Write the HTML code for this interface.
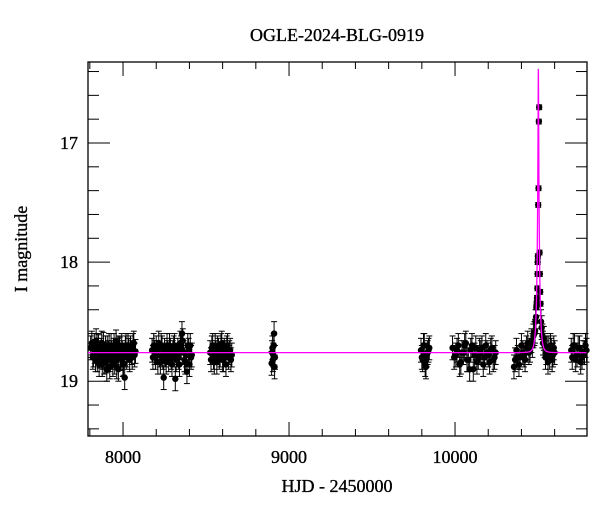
<!DOCTYPE html>
<html><head><meta charset="utf-8"><style>
body{margin:0;background:#fff;font-family:"Liberation Serif",serif}
text{stroke:#000;stroke-width:0.35}
</style></head><body>
<svg id="c" width="600" height="512" xmlns="http://www.w3.org/2000/svg" style="font-family:'Liberation Serif',serif">
<text x="337" y="41" text-anchor="middle" font-size="18">OGLE-2024-BLG-0919</text>
<text x="337" y="492" text-anchor="middle" font-size="18">HJD - 2450000</text>
<text transform="translate(27,249) rotate(-90)" text-anchor="middle" font-size="18">I magnitude</text>
<g id="plot"></g>
</svg>
<script>
const xTicks=[8000,9000,10000];
const yTicks=[17,18,19];
const t1=[7805,7812,7818,7822,7827,7830,7834,7838,7842,7845,7849,7852,7856,7860,7864,7868,7872,7875,7879,7882,7886,7890,7894,7898,7902,7905,7909,7912,7916,7920,7924,7928,7932,7935,7939,7942,7946,7950,7954,7958,7962,7965,7969,7972,7976,7980,7984,7988,7992,7995,7999,8003,8007,8010,8014,8018,8022,8025,8030,8035,8040,8045,8050,8055,8060,8065,8070,8075];
const m1=[18.72,18.68,18.8,18.78,18.7,18.75,18.82,18.66,18.74,18.82,18.7,18.71,18.86,18.79,18.76,18.74,18.68,18.86,18.8,18.69,18.84,18.77,18.72,18.83,18.9,18.72,18.78,18.76,18.7,18.88,18.82,18.7,18.76,18.8,18.86,18.74,18.7,18.84,18.78,18.67,18.88,18.79,18.74,18.9,18.72,18.73,18.8,18.81,18.7,18.76,18.86,18.85,18.78,18.97,18.72,18.7,18.8,18.78,18.7,18.74,18.82,18.72,18.76,18.8,18.7,18.68,18.78,18.75];
const t2=[8175,8180,8185,8190,8195,8200,8205,8210,8215,8220,8225,8230,8235,8240,8245,8250,8255,8260,8265,8270,8275,8280,8285,8290,8295,8300,8305,8310,8315,8320,8325,8330,8335,8340,8345,8350,8355,8360,8365,8370,8375,8380,8385,8390,8395,8400,8405,8410,8414];
const m2=[18.74,18.8,18.7,18.76,18.8,18.72,18.76,18.84,18.68,18.78,18.84,18.7,18.72,18.8,18.97,18.74,18.78,18.84,18.7,18.76,18.82,18.7,18.74,18.8,18.86,18.76,18.72,18.7,18.98,18.82,18.78,18.74,18.8,18.86,18.68,18.72,18.6,18.66,18.76,18.82,18.84,18.78,18.92,18.7,18.74,18.86,18.7,18.8,18.78];
const t3=[8525,8530,8535,8540,8545,8550,8555,8560,8565,8570,8575,8580,8585,8590,8595,8600,8605,8610,8615,8620,8625,8630,8635,8640,8645,8650,8655];
const m3=[18.76,18.82,18.72,18.7,18.8,18.84,18.7,18.76,18.84,18.72,18.74,18.8,18.78,18.7,18.68,18.82,18.82,18.74,18.76,18.86,18.72,18.7,18.8,18.76,18.74,18.82,18.78];
const t4=[8895,8898,8900,8903,8905,8908,8910,8913,8915];
const m4=[18.85,18.76,18.72,18.82,18.78,18.7,18.6,18.88,18.8];
const t5=[9795,9800,9805,9810,9815,9820,9825,9830,9835,9840,9845];
const m5=[18.74,18.8,18.82,18.7,18.7,18.86,18.88,18.78,18.76,18.74,18.72];
const t6=[9985,9995,10005,10012,10020,10028,10035,10042,10050,10058,10065,10072,10080,10088,10095,10102,10110,10118,10125,10132,10140,10148,10155,10162,10170,10178,10185,10192,10200,10208,10215,10222,10230,10238,10245];
const m6=[18.72,18.8,18.78,18.74,18.7,18.86,18.84,18.76,18.76,18.7,18.68,18.82,18.82,18.9,18.74,18.7,18.9,18.78,18.72,18.84,18.8,18.74,18.76,18.72,18.86,18.8,18.7,18.76,18.78,18.84,18.74,18.72,18.82,18.8,18.76];
const t7=[10355,10362,10370,10378,10385,10392,10400,10408,10415,10422,10430,10438,10445,10452,10460,10466,10472,10478,10482,10485,10488,10490,10492,10494,10496,10497,10498,10499,10501,10503,10505,10507,10509,10511,10513,10515,10518,10522,10526,10530,10535,10540,10545,10550,10555,10560,10565,10570,10575,10580,10585,10590,10595,10600];
const m7=[18.88,18.82,18.74,18.8,18.86,18.8,18.7,18.76,18.78,18.82,18.72,18.68,18.76,18.74,18.66,18.7,18.62,18.6,18.58,18.5,18.46,18.38,18.34,18.3,18.22,18.1,18.0,17.95,17.52,17.38,16.82,16.7,17.92,18.1,18.25,18.35,18.5,18.55,18.62,18.68,18.64,18.7,18.8,18.76,18.72,18.84,18.72,18.8,18.7,18.74,18.82,18.78,18.72,18.76];
const t8=[10700,10706,10712,10720,10727,10735,10742,10750,10757,10765,10772,10780,10786,10792];
const m8=[18.74,18.8,18.7,18.7,18.82,18.78,18.72,18.72,18.84,18.8,18.76,18.76,18.7,18.74];
const baseMag=18.76, t0=10502, u0=0.112, tE=14;

const L=88,R=587,T=62,B=436, xmin=7789, xmax=10795, ymin=16.32, ymax=19.46;
const X=v=>L+(v-xmin)/(xmax-xmin)*(R-L);
const Y=v=>T+(v-ymin)/(ymax-ymin)*(B-T);
const NS="http://www.w3.org/2000/svg";
const g=document.getElementById('plot');
function mk(tag,at){const e=document.createElementNS(NS,tag);for(const k in at)e.setAttribute(k,at[k]);g.appendChild(e);return e;}
let fr=mk('rect',{x:L,y:T,width:R-L,height:B-T,fill:'none',stroke:'#000','stroke-width':1.3});


for(let v=7800;v<=10795;v+=200){const major=v%1000===0;const len=major?14:7;const x=X(v);
 mk('line',{x1:x,x2:x,y1:B,y2:B-len,stroke:'#000'});mk('line',{x1:x,x2:x,y1:T,y2:T+len,stroke:'#000'});}
xTicks.forEach(v=>{const t=mk('text',{x:X(v),y:B+27,'text-anchor':'middle','font-size':18});t.textContent=v;
 
 });
for(let v=16.4;v<=19.46;v+=0.2){const r=Math.round(v*10)/10;const major=Math.abs(r-Math.round(r))<1e-6;const len=major?22:11;const y=Y(r);
 mk('line',{x1:L,x2:L+len,y1:y,y2:y,stroke:'#000'});mk('line',{x1:R,x2:R-len,y1:y,y2:y,stroke:'#000'});}
yTicks.forEach(v=>{const t=mk('text',{x:L-10,y:Y(v)+6,'text-anchor':'end','font-size':18});t.textContent=v;
 
 });
const ts=[t1,t2,t3,t4,t5,t6,t7,t8], ms=[m1,m2,m3,m4,m5,m6,m7,m8];
ts.forEach((tt,si)=>tt.forEach((t,i)=>{const m=ms[si][i];const x=X(t),y=Y(m);
 const ey=Math.abs(Y(m+(m<18.4?0.02:0.1))-y);
 mk('line',{x1:x,x2:x,y1:y-ey,y2:y+ey,stroke:'#000','stroke-width':1});
 mk('line',{x1:x-3,x2:x+3,y1:y-ey,y2:y-ey,stroke:'#000'});mk('line',{x1:x-3,x2:x+3,y1:y+ey,y2:y+ey,stroke:'#000'});
 const c=mk('circle',{cx:x,cy:y,r:3.2,fill:'#000'});
 
 }));
let d='';for(let t=xmin;t<=xmax;t+=(Math.abs(t-t0)<150?0.25:10)){const u=Math.sqrt(u0*u0+((t-t0)/tE)**2);const A=(u*u+2)/(u*Math.sqrt(u*u+4));
 const m=baseMag-2.5*Math.log10(A);d+=(d?'L':'M')+X(t).toFixed(2)+','+Y(m).toFixed(2);}
const p=mk('path',{d:d,fill:'none',stroke:'#ff00ff','stroke-width':1.3});


</script>
</body></html>
